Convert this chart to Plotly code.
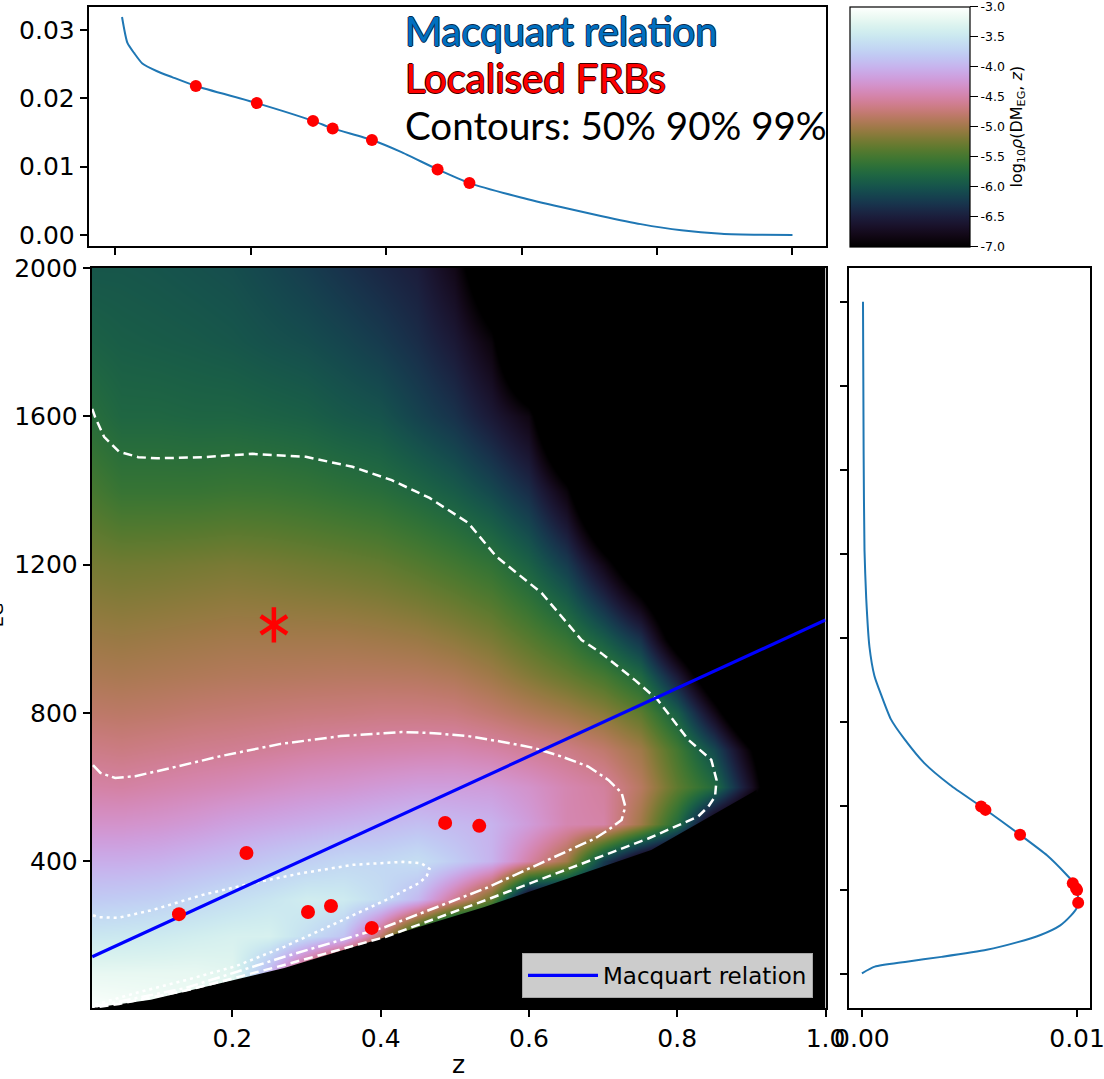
import numpy as np
import plotly.graph_objects as go

# ------------------------------------------------------------------ data
# localised FRBs (redshift, extragalactic DM) in the main panel
frb_z = [0.128, 0.219, 0.302, 0.333, 0.388, 0.487, 0.533]
frb_dm = [258, 423, 264, 280, 221, 504, 496]
# the same FRBs as read in the marginal panels
frb_z_top = [0.119, 0.209, 0.292, 0.321, 0.379, 0.476, 0.523]
frb_pz = [0.0218, 0.0193, 0.0167, 0.0156, 0.0139, 0.0096, 0.0076]
frb_dm_side = [251, 415, 256, 271, 213, 499, 489]
frb_pdm = [0.0100, 0.00735, 0.00995, 0.0098, 0.01005, 0.00554, 0.00574]

# red asterisk
star_z = [0.256]
star_dm = [1038]

# Macquart relation
macquart_z = [0.011, 1.0]
macquart_dm = [143, 1051]

# marginal p(z) (top panel)
pz_z = [0.01, 0.018, 0.028, 0.04, 0.061, 0.084, 0.119, 0.209, 0.292, 0.321, 0.379,
        0.421, 0.476, 0.523, 0.599, 0.658, 0.717, 0.776, 0.836, 0.895, 0.954, 1.0]
pz_p = [0.0319, 0.0281, 0.0266, 0.0251, 0.0240, 0.0231, 0.0218, 0.0193, 0.0167, 0.0156, 0.0139,
        0.0122, 0.0096, 0.0076, 0.0055, 0.0041, 0.0028, 0.0016, 0.0007, 0.0002, 0.00004, 0.0]

# marginal p(DM) (right panel)
pdm_dm = [2000, 1550, 1262, 1118, 974, 888, 830, 758, 700, 628, 563, 499, 415, 354,
          297, 271, 251, 213, 196, 174, 145, 117, 95, 73, 52, 37, 23, 3]
pdm_p = [0.00005, 0.00008, 0.00012, 0.0002, 0.00035, 0.00058, 0.0009, 0.00135, 0.00197,
         0.0029, 0.0041, 0.00554, 0.00735, 0.0086, 0.0095, 0.00986, 0.0100, 0.01005,
         0.00997, 0.0097, 0.0092, 0.0083, 0.0072, 0.0058, 0.0037, 0.0020, 0.0006, 0.0]

# log10 p(DM_EG, z) read on a coarse grid: one list per redshift column
grid_z = [0.0, 0.05, 0.1, 0.15, 0.2, 0.25, 0.3, 0.35, 0.4, 0.45, 0.5,
          0.55, 0.6, 0.65, 0.7, 0.75, 0.8, 0.85, 0.9, 0.95, 1.0]
grid_dm = [0, 100, 200, 300, 400, 500, 600, 700, 800, 900, 1000, 1200, 1400, 1600, 1800, 2000]
logp_z000 = [-3.0, -3.2, -3.5, -3.8, -4.05, -4.3, -4.5, -4.65, -4.8, -4.92, -5.02, -5.22, -5.45, -5.68, -5.85, -5.97]
logp_z005 = [-3.05, -3.2, -3.48, -3.78, -4.05, -4.3, -4.52, -4.68, -4.82, -4.94, -5.04, -5.25, -5.58, -5.8, -5.9, -5.97]
logp_z010 = [-3.1, -3.2, -3.45, -3.75, -4.02, -4.27, -4.48, -4.65, -4.8, -4.92, -5.02, -5.24, -5.58, -5.8, -5.92, -5.99]
logp_z015 = [-3.15, -3.2, -3.4, -3.68, -3.96, -4.22, -4.44, -4.62, -4.77, -4.9, -5.0, -5.22, -5.58, -5.82, -5.94, -6.02]
logp_z020 = [-3.25, -3.25, -3.35, -3.6, -3.9, -4.15, -4.4, -4.6, -4.75, -4.88, -4.98, -5.2, -5.56, -5.82, -5.97, -6.05]
logp_z025 = [-4.0, -4.0, -3.35, -3.52, -3.82, -4.1, -4.35, -4.57, -4.73, -4.87, -4.98, -5.22, -5.57, -5.85, -6.02, -6.12]
logp_z030 = [-5.0, -5.0, -3.6, -3.42, -3.75, -4.05, -4.3, -4.53, -4.71, -4.86, -4.98, -5.25, -5.6, -5.88, -6.06, -6.2]
logp_z035 = [-6.0, -6.0, -3.85, -3.45, -3.68, -4.0, -4.27, -4.5, -4.7, -4.85, -4.98, -5.28, -5.65, -5.95, -6.13, -6.3]
logp_z040 = [-6.5, -6.5, -4.8, -3.62, -3.67, -3.95, -4.22, -4.48, -4.68, -4.85, -5.0, -5.32, -5.7, -6.0, -6.22, -6.4]
logp_z045 = [-7.0, -7.0, -6.0, -3.95, -3.6, -3.9, -4.18, -4.46, -4.68, -4.86, -5.03, -5.4, -5.8, -6.15, -6.35, -6.5]
logp_z050 = [-7.0, -7.0, -7.0, -4.6, -3.78, -3.95, -4.18, -4.45, -4.7, -4.9, -5.1, -5.5, -5.92, -6.3, -6.55, -6.8]
logp_z055 = [-7.0, -7.0, -7.0, -5.3, -4.0, -4.0, -4.2, -4.5, -4.78, -5.0, -5.2, -5.62, -6.1, -6.55, -6.9, -7.5]
logp_z060 = [-7.0, -7.0, -7.0, -7.0, -4.5, -4.2, -4.3, -4.58, -4.88, -5.15, -5.38, -5.85, -6.35, -6.85, -8.0, -8.0]
logp_z065 = [-7.0, -7.0, -7.0, -7.0, -5.0, -4.45, -4.45, -4.65, -4.98, -5.3, -5.58, -6.2, -6.9, -8.0, -8.0, -8.0]
logp_z070 = [-7.0, -7.0, -7.0, -7.0, -6.2, -4.5, -4.55, -4.78, -5.12, -5.48, -5.9, -6.8, -8.0, -8.0, -8.0, -8.0]
logp_z075 = [-7.0, -7.0, -7.0, -7.0, -7.0, -5.0, -4.85, -5.0, -5.35, -5.78, -6.3, -7.5, -8.0, -8.0, -8.0, -8.0]
logp_z080 = [-7.5, -7.5, -7.5, -7.5, -7.5, -5.75, -5.35, -5.5, -5.9, -6.55, -7.3, -8.0, -8.0, -8.0, -8.0, -8.0]
logp_z085 = [-8.0, -8.0, -8.0, -8.0, -8.0, -7.0, -5.75, -6.1, -6.8, -7.5, -8.0, -8.0, -8.0, -8.0, -8.0, -8.0]
logp_z090 = [-8.0, -8.0, -8.0, -8.0, -8.0, -7.5, -6.7, -7.0, -7.8, -8.0, -8.0, -8.0, -8.0, -8.0, -8.0, -8.0]
logp_z095 = [-8.0, -8.0, -8.0, -8.0, -8.0, -8.0, -8.0, -8.0, -8.0, -8.0, -8.0, -8.0, -8.0, -8.0, -8.0, -8.0]
logp_z100 = [-8.0, -8.0, -8.0, -8.0, -8.0, -8.0, -8.0, -8.0, -8.0, -8.0, -8.0, -8.0, -8.0, -8.0, -8.0, -8.0]

# lower edge of the non-zero density region (black below)
edge_z = [0.0, 0.09, 0.27, 0.54, 0.765, 0.907]
edge_dm = [2, 27, 113, 277, 431, 593]

# probability contours 50% (dotted), 90% (dash-dot), 99% (dashed)
c50_z = [0.012, 0.019, 0.046, 0.092, 0.160, 0.228, 0.295, 0.363, 0.430, 0.455, 0.466,
         0.462, 0.452, 0.407, 0.34, 0.27, 0.205, 0.137, 0.069, 0.047, 0.012]
c50_dm = [255, 250, 248, 269, 310, 342, 369, 391, 399, 395, 380,
          360, 342, 296, 234, 170, 118, 80, 45, 32, 12]
c90_z = [0.012, 0.022, 0.042, 0.069, 0.117, 0.184, 0.265, 0.346, 0.428, 0.472, 0.518, 0.563,
         0.607, 0.644, 0.680, 0.707, 0.725, 0.730, 0.725, 0.707, 0.689, 0.617, 0.542, 0.407,
         0.27, 0.137, 0.047, 0.012]
c90_dm = [660, 639, 625, 630, 652, 684, 717, 738, 749, 746, 738, 723,
          706, 683, 656, 620, 585, 548, 512, 485, 462, 396, 328, 224,
          143, 59, 22, 8]
c99_z = [0.011, 0.0147, 0.027, 0.047, 0.073, 0.0986, 0.16, 0.227, 0.299, 0.362, 0.415, 0.466,
         0.518, 0.556, 0.617, 0.671, 0.698, 0.743, 0.774, 0.815, 0.846, 0.853, 0.851, 0.842,
         0.828, 0.788, 0.761, 0.542, 0.407, 0.27, 0.137, 0.047, 0.012]
c99_dm = [1620, 1599, 1545, 1505, 1490, 1487, 1490, 1499, 1491, 1464, 1428, 1380,
          1313, 1222, 1124, 997, 961, 889, 835, 728, 674, 620, 575, 548,
          521, 485, 462, 296, 197, 121, 52, 16, 6]

# ticks
cbar_ticks = [-3.0, -3.5, -4.0, -4.5, -5.0, -5.5, -6.0, -6.5, -7.0]
main_xticks = [0.2, 0.4, 0.6, 0.8, 1.0]
main_yticks = [400, 800, 1200, 1600, 2000]
top_xticks = [0.0, 0.2, 0.4, 0.6, 0.8, 1.0]
top_yticks = [0.00, 0.01, 0.02, 0.03]
side_xticks = [0.00, 0.01]
side_yticks = [0, 250, 500, 750, 1000, 1250, 1500, 1750, 2000]

# ------------------------------------------------------------------ colormap (matplotlib cubehelix)
def cubehelix(x, gamma=1.0, s=0.5, r=-1.5, h=1.0):
    xg = x ** gamma
    a = h * xg * (1 - xg) / 2
    phi = 2 * np.pi * (s / 3 + r * x)
    red = xg + a * (-0.14861 * np.cos(phi) + 1.78277 * np.sin(phi))
    grn = xg + a * (-0.29227 * np.cos(phi) - 0.90649 * np.sin(phi))
    blu = xg + a * (1.97294 * np.cos(phi))
    c = np.clip([red, grn, blu], 0, 1)
    return "rgb(%d,%d,%d)" % tuple(int(round(v * 255)) for v in c)

colorscale = [[float(t), cubehelix(float(t))] for t in np.linspace(0, 1, 41)]

columns = [logp_z000, logp_z005, logp_z010, logp_z015, logp_z020, logp_z025, logp_z030,
           logp_z035, logp_z040, logp_z045, logp_z050, logp_z055, logp_z060, logp_z065,
           logp_z070, logp_z075, logp_z080, logp_z085, logp_z090, logp_z095, logp_z100]
grid = np.array(columns).T.tolist()

# ------------------------------------------------------------------ layout helpers
W, H = 1104, 1079
def fx(p):
    return p / W
def fy(p):
    return 1 - p / H

FONT = "DejaVu Sans"
tickfont = dict(family=FONT, size=25, color="black")

def ax(**kw):
    base = dict(showline=True, linecolor="black", linewidth=1.5, mirror=True,
                ticks="outside", ticklen=7, tickwidth=1.5, tickcolor="black",
                showgrid=False, zeroline=False, tickfont=tickfont, automargin=False,
                ticklabeloverflow="allow")
    base.update(kw)
    return base

fig = go.Figure()

# density image
fig.add_trace(go.Heatmap(
    x=grid_z, y=grid_dm, z=grid, zmin=-7, zmax=-3, zsmooth="best",
    colorscale=colorscale, xaxis="x", yaxis="y", hoverinfo="skip",
    colorbar=dict(
        x=fx(850), xanchor="left", y=fy(6.7), yanchor="top",
        len=239.5, lenmode="pixels", thickness=120, thicknessmode="pixels",
        xpad=0, ypad=0, outlinewidth=1.2, outlinecolor="black",
        tickmode="array", tickvals=cbar_ticks, ticktext=["%.1f" % v for v in cbar_ticks],
        ticks="outside", ticklen=8, tickcolor="black", ticklabeloverflow="allow",
        tickfont=dict(family=FONT, size=12.5, color="black"),
        title=dict(text="log<sub>10</sub><i>ρ</i>(DM<sub>EG</sub>, <i>z</i>)", side="right",
                   font=dict(family=FONT, size=16, color="black")),
    ),
))

# black region below the lower edge of the support
fig.add_trace(go.Scatter(x=edge_z, y=edge_dm, mode="lines", fill="tozeroy",
                         fillcolor="black", line=dict(width=0, color="black"),
                         xaxis="x", yaxis="y", showlegend=False, hoverinfo="skip"))

# contours
for cz, cd, dash in [(c99_z, c99_dm, "9px,5px"), (c90_z, c90_dm, "12px,4px,3px,4px"),
                     (c50_z, c50_dm, "3px,4px")]:
    fig.add_trace(go.Scatter(x=cz, y=cd, mode="lines", xaxis="x", yaxis="y",
                             line=dict(color="white", width=2.5, dash=dash),
                             showlegend=False, hoverinfo="skip"))

# Macquart relation
fig.add_trace(go.Scatter(x=macquart_z, y=macquart_dm, mode="lines", name="Macquart relation",
                         line=dict(color="#0000ff", width=3.2), xaxis="x", yaxis="y",
                         showlegend=True))

# FRBs in main panel
fig.add_trace(go.Scatter(x=frb_z, y=frb_dm, mode="markers", xaxis="x", yaxis="y",
                         marker=dict(color="red", size=14, line=dict(width=0)),
                         showlegend=False))

# asterisk
for sym in ["y-up-open", "y-down-open"]:
    fig.add_trace(go.Scatter(x=star_z, y=star_dm, mode="markers", xaxis="x", yaxis="y",
                             marker=dict(symbol=sym, size=22, color="red",
                                         line=dict(color="red", width=4.5)),
                             showlegend=False))

# top panel: p(z)
fig.add_trace(go.Scatter(x=pz_z, y=pz_p, mode="lines", xaxis="x2", yaxis="y2",
                         line=dict(color="#1f77b4", width=2, shape="spline", smoothing=0.6),
                         showlegend=False))
fig.add_trace(go.Scatter(x=frb_z_top, y=frb_pz, mode="markers", xaxis="x2", yaxis="y2",
                         marker=dict(color="red", size=12), showlegend=False))

# right panel: p(DM)
fig.add_trace(go.Scatter(x=pdm_p, y=pdm_dm, mode="lines", xaxis="x3", yaxis="y3",
                         line=dict(color="#1f77b4", width=2, shape="spline", smoothing=0.6),
                         showlegend=False))
fig.add_trace(go.Scatter(x=frb_pdm, y=frb_dm_side, mode="markers", xaxis="x3", yaxis="y3",
                         marker=dict(color="red", size=12), showlegend=False))

outline_blue = "1px 0 0 #0d2b4e, -1px 0 0 #0d2b4e, 0 1px 0 #0d2b4e, 0 -1px 0 #0d2b4e"
outline_red = "1px 0 0 #3a0000, -1px 0 0 #3a0000, 0 1px 0 #3a0000, 0 -1px 0 #3a0000"

fig.update_layout(
    width=W, height=H, template="none",
    margin=dict(l=0, r=0, t=0, b=0, pad=0),
    paper_bgcolor="white", plot_bgcolor="white",
    font=dict(family=FONT, color="black"),
    xaxis=ax(domain=[fx(91.5), fx(825.5)], range=[0.01, 1.0], anchor="y",
             tickvals=main_xticks, ticktext=["%.1f" % v for v in main_xticks],
             title=dict(text="z", font=dict(family=FONT, size=25), standoff=12)),
    yaxis=ax(domain=[fy(1008), fy(268)], range=[5, 2000], anchor="x",
             tickvals=main_yticks, ticktext=[str(v) for v in main_yticks]),
    xaxis2=ax(domain=[fx(88.5), fx(826)], range=[-0.0395, 1.0495], anchor="y2",
              tickvals=top_xticks, showticklabels=False),
    yaxis2=ax(domain=[fy(246), fy(6.7)], range=[-0.0016, 0.0334], anchor="x2",
              tickvals=top_yticks, ticktext=["%.2f" % v for v in top_yticks]),
    xaxis3=ax(domain=[fx(849), fx(1090)], range=[-0.0006, 0.0106], anchor="y3",
              tickvals=side_xticks, ticktext=["%.2f" % v for v in side_xticks]),
    yaxis3=ax(domain=[fy(1008), fy(268)], range=[-100, 2100], anchor="x3",
              tickvals=side_yticks, showticklabels=False),
    legend=dict(x=fx(813), xanchor="right", y=fy(953), yanchor="top",
                bgcolor="#cccccc", bordercolor="#a8a8a8", borderwidth=1,
                font=dict(family=FONT, size=23, color="black"), itemwidth=70),
    annotations=[
        # main y-axis title, cropped by the left edge of the figure as in the original
        dict(text="DM<sub>EG</sub>", x=fx(9), y=fy(636), xref="paper", yref="paper",
             xanchor="right", yanchor="middle", textangle=-90, showarrow=False,
             font=dict(family=FONT, size=25, color="black")),
        dict(text="Macquart relation", x=fx(403), y=fy(31), xref="paper", yref="paper",
             xanchor="left", yanchor="middle", showarrow=False,
             font=dict(family="Lato", size=40, color="#0070c0", shadow=outline_blue)),
        dict(text="Localised FRBs", x=fx(403), y=fy(78), xref="paper", yref="paper",
             xanchor="left", yanchor="middle", showarrow=False,
             font=dict(family="Lato", size=40, color="#ff0000", shadow=outline_red)),
        dict(text="Contours: 50% 90% 99%", x=fx(403), y=fy(125), xref="paper", yref="paper",
             xanchor="left", yanchor="middle", showarrow=False,
             font=dict(family="Lato", size=38.5, color="black")),
    ],
)

fig.write_html("out.html")
